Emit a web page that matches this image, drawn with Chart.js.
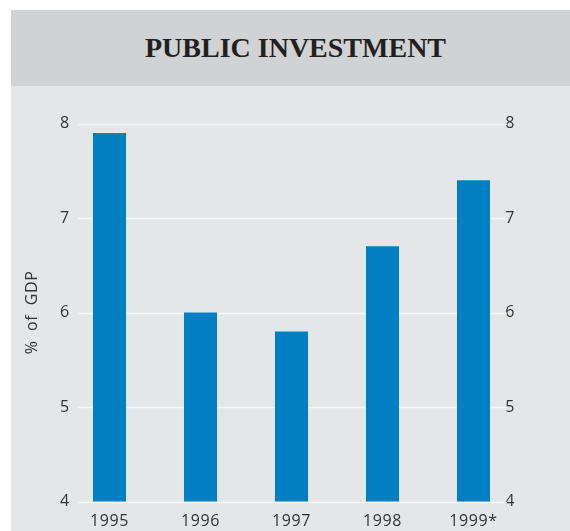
<!DOCTYPE html>
<html>
<head>
<meta charset="utf-8">
<script src="https://cdn.jsdelivr.net/npm/chart.js@4/dist/chart.umd.min.js"></script>
<style>
  body { margin: 0; background: #fff; }
  #panel { position: absolute; left: 11px; top: 10px; width: 559px; height: 521px; background: #e5e6e8; }
  #title { height: 76px; background: #d1d2d4; text-align: center; padding-left: 10px; box-sizing: border-box;
           font: bold 28px "Liberation Serif", serif; line-height: 76px; color: #231f20; }
  #box { position: relative; width: 559px; height: 445px; }
</style>
</head>
<body>
<div id="panel">
  <div id="title">PUBLIC INVESTMENT</div>
  <div id="box"><canvas id="chart"></canvas></div>
</div>
<script>
// Public investment, % of GDP
const years = ['1995', '1996', '1997', '1998', '1999*'];
const investment = [7.9, 6.0, 5.8, 6.7, 7.4];
const yTicks = [4, 5, 6, 7, 8];

const textColor = '#333333';
const tickFont = { family: 'Open Sans', size: 16 };

// white horizontal rules, a bit shorter than the plot area
const gridLines = {
    id: 'gridLines',
    beforeDatasetsDraw(chart) {
        const { ctx, chartArea, scales } = chart;
        ctx.save();
        ctx.strokeStyle = '#f7f7f8';
        ctx.lineWidth = 1.5;
        yTicks.forEach(v => {
            const y = Math.round(scales.y.getPixelForValue(v)) + 0.5;
            ctx.beginPath();
            ctx.moveTo(chartArea.left + 14, y);
            ctx.lineTo(chartArea.right - 12, y);
            ctx.stroke();
        });
        ctx.restore();
    }
};

// spaced out lettering for the axis texts
const spacing = {
    id: 'spacing',
    beforeDraw(chart) {
        chart.ctx.letterSpacing = '0.6px';
    }
};

const ctx = document.getElementById('chart').getContext('2d');
new Chart(ctx, {
    type: 'bar',
    data: {
        labels: years,
        datasets: [{
            data: investment,
            backgroundColor: '#0080c3',
            borderWidth: 0,
            barPercentage: 0.363,
            categoryPercentage: 1
        }]
    },
    options: {
        responsive: true,
        maintainAspectRatio: false,
        animation: false,
        layout: { padding: { top: 37.5, left: 0, right: 0, bottom: 0 } },
        plugins: {
            legend: { display: false },
            tooltip: { enabled: false }
        },
        scales: {
            x: {
                grid: { display: false },
                border: { display: false },
                ticks: { color: textColor, font: tickFont, padding: 2 },
                afterFit: s => { s.height = 29.5; }
            },
            y: {
                position: 'left',
                min: 4,
                max: 8,
                afterBuildTicks: s => { s.ticks = yTicks.map(v => ({ value: v })); },
                grid: { display: false, drawTicks: false },
                border: { display: false },
                ticks: { color: textColor, font: tickFont, mirror: true, padding: -4 },
                title: {
                    display: true,
                    text: '%  of  GDP',
                    color: textColor,
                    font: { family: 'Open Sans', size: 16 },
                    padding: { top: 12, bottom: 0 }
                },
                afterFit: s => { s.width = 53; }
            },
            y2: {
                position: 'right',
                min: 4,
                max: 8,
                afterBuildTicks: s => { s.ticks = yTicks.map(v => ({ value: v })); },
                grid: { display: false, drawTicks: false },
                border: { display: false },
                ticks: { color: textColor, font: tickFont, mirror: true, padding: -4 },
                afterFit: s => { s.width = 51; }
            }
        }
    },
    plugins: [gridLines, spacing]
});
</script>
</body>
</html>
